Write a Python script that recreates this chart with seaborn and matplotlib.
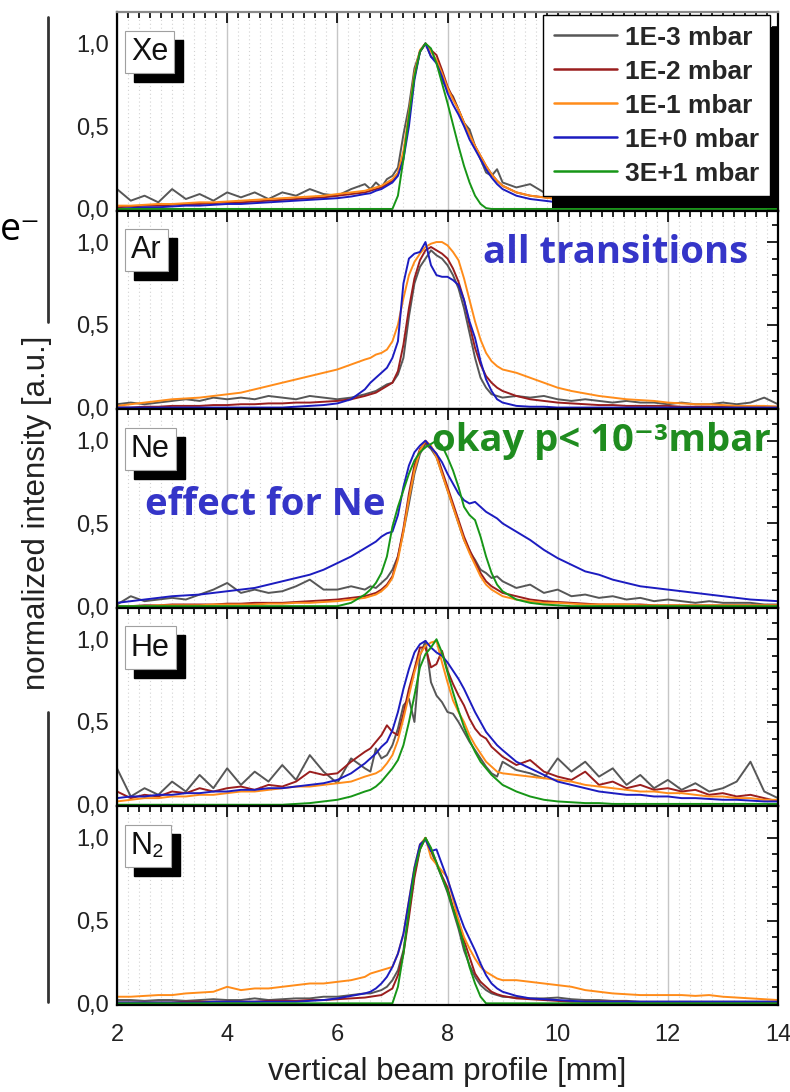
import matplotlib
matplotlib.use("Agg")
import numpy as np
import pandas as pd
import seaborn as sns
import matplotlib.pyplot as plt
from matplotlib.ticker import MultipleLocator, FuncFormatter, FixedLocator
from matplotlib.transforms import offset_copy
from matplotlib.lines import Line2D
from matplotlib.patches import Rectangle

# ---------------- data ----------------
X_MM = [2.0, 2.25, 2.5, 2.75, 3.0, 3.25, 3.5, 3.75, 4.0, 4.25, 4.5, 4.75, 5.0, 5.25, 5.5, 5.75, 6.0, 6.25, 6.5,
        6.6, 6.7, 6.8, 6.9, 7.0, 7.1, 7.2, 7.3, 7.4, 7.5, 7.6, 7.7, 7.8, 7.9, 8.0, 8.1, 8.2, 8.3, 8.4, 8.5, 8.6, 8.7, 8.8, 8.9, 9.0,
        9.25, 9.5, 9.75, 10.0, 10.25, 10.5, 10.75, 11.0, 11.25, 11.5, 11.75, 12.0, 12.25, 12.5, 12.75, 13.0, 13.25, 13.5, 13.75, 14.0]

PRESSURES = ["1E-3 mbar", "1E-2 mbar", "1E-1 mbar", "1E+0 mbar", "3E+1 mbar"]
COLORS = ["#575757", "#9a1e1e", "#ff8c1a", "#1c1cc0", "#179617"]
GASES = ["Xe", "Ar", "Ne", "He", "N₂"]

# Xe
XE_1E3 = [0.12, 0.05, 0.08, 0.04, 0.12, 0.06, 0.09, 0.05, 0.10, 0.07, 0.10, 0.06, 0.10, 0.08, 0.12, 0.09, 0.08, 0.12, 0.15,
          0.12, 0.16, 0.13, 0.18, 0.20, 0.25, 0.45, 0.62, 0.85, 0.95, 1.00, 0.92, 0.90, 0.78, 0.72, 0.68, 0.60, 0.52, 0.48, 0.38, 0.30, 0.22, 0.20, 0.24, 0.16,
          0.13, 0.15, 0.10, 0.07, 0.06, 0.07, 0.04, 0.05, 0.04, 0.03, 0.04, 0.03, 0.03, 0.02, 0.03, 0.02, 0.02, 0.02, 0.01, 0.01]
XE_1E2 = [0.01, 0.015, 0.02, 0.02, 0.025, 0.03, 0.03, 0.035, 0.04, 0.04, 0.045, 0.05, 0.055, 0.06, 0.065, 0.07, 0.08, 0.09, 0.10,
          0.11, 0.12, 0.13, 0.15, 0.17, 0.21, 0.33, 0.55, 0.80, 0.95, 1.00, 0.96, 0.93, 0.84, 0.74, 0.67, 0.60, 0.52, 0.45, 0.38, 0.32, 0.26, 0.21, 0.17, 0.14,
          0.10, 0.08, 0.07, 0.06, 0.05, 0.045, 0.04, 0.04, 0.035, 0.03, 0.03, 0.025, 0.025, 0.02, 0.02, 0.02, 0.015, 0.015, 0.01, 0.01]
XE_1E1 = [0.02, 0.02, 0.025, 0.03, 0.03, 0.035, 0.04, 0.04, 0.045, 0.05, 0.055, 0.06, 0.065, 0.07, 0.075, 0.08, 0.09, 0.10, 0.11,
          0.12, 0.13, 0.14, 0.16, 0.18, 0.22, 0.35, 0.58, 0.82, 0.96, 1.00, 0.95, 0.90, 0.82, 0.73, 0.66, 0.60, 0.52, 0.45, 0.38, 0.32, 0.26, 0.21, 0.17, 0.14,
          0.10, 0.08, 0.07, 0.06, 0.055, 0.05, 0.045, 0.04, 0.04, 0.035, 0.03, 0.03, 0.03, 0.025, 0.025, 0.02, 0.02, 0.02, 0.02, 0.015]
XE_1E0 = [0.0, 0.005, 0.01, 0.01, 0.015, 0.02, 0.02, 0.025, 0.03, 0.03, 0.035, 0.04, 0.045, 0.05, 0.055, 0.06, 0.065, 0.075, 0.09,
          0.095, 0.11, 0.12, 0.14, 0.16, 0.20, 0.30, 0.50, 0.78, 0.95, 1.00, 0.92, 0.88, 0.80, 0.70, 0.63, 0.57, 0.50, 0.42, 0.36, 0.30, 0.24, 0.19, 0.15, 0.12,
          0.08, 0.06, 0.05, 0.04, 0.035, 0.03, 0.03, 0.025, 0.02, 0.02, 0.02, 0.015, 0.015, 0.01, 0.01, 0.01, 0.01, 0.01, 0.005, 0.005]
XE_3E1 = [0, 0, 0, 0, 0, 0, 0, 0, 0, 0, 0, 0, 0, 0, 0, 0, 0, 0, 0,
          0, 0, 0, 0, 0, 0.08, 0.30, 0.56, 0.80, 0.95, 1.00, 0.97, 0.88, 0.76, 0.64, 0.51, 0.38, 0.26, 0.16, 0.08, 0.03, 0.005, 0, 0, 0,
          0, 0, 0, 0, 0, 0, 0, 0, 0, 0, 0, 0, 0, 0, 0, 0, 0, 0, 0, 0]

# Ar
AR_1E3 = [0.02, 0.03, 0.02, 0.03, 0.04, 0.05, 0.04, 0.06, 0.05, 0.06, 0.05, 0.07, 0.06, 0.05, 0.07, 0.06, 0.05, 0.06, 0.08,
          0.09, 0.10, 0.12, 0.14, 0.15, 0.20, 0.30, 0.55, 0.75, 0.85, 0.90, 0.95, 0.92, 0.90, 0.86, 0.80, 0.72, 0.60, 0.45, 0.30, 0.18, 0.12, 0.08, 0.07, 0.06,
          0.07, 0.06, 0.07, 0.05, 0.04, 0.05, 0.04, 0.03, 0.04, 0.03, 0.03, 0.02, 0.03, 0.02, 0.02, 0.03, 0.02, 0.03, 0.06, 0.02]
AR_1E2 = [0.0, 0.0, 0.005, 0.005, 0.01, 0.01, 0.01, 0.015, 0.015, 0.02, 0.02, 0.025, 0.025, 0.03, 0.03, 0.035, 0.04, 0.05, 0.07,
          0.08, 0.09, 0.11, 0.13, 0.15, 0.22, 0.38, 0.60, 0.78, 0.89, 0.95, 0.97, 0.95, 0.93, 0.90, 0.84, 0.76, 0.65, 0.50, 0.36, 0.26, 0.19, 0.15, 0.12, 0.10,
          0.07, 0.05, 0.04, 0.03, 0.025, 0.02, 0.015, 0.015, 0.01, 0.01, 0.01, 0.01, 0.005, 0.005, 0.005, 0.005, 0.005, 0.005, 0.005, 0.005]
AR_1E1 = [0.01, 0.02, 0.03, 0.04, 0.05, 0.055, 0.06, 0.07, 0.08, 0.09, 0.11, 0.13, 0.15, 0.17, 0.19, 0.21, 0.23, 0.26, 0.29,
          0.30, 0.32, 0.33, 0.35, 0.40, 0.50, 0.66, 0.80, 0.88, 0.93, 0.97, 0.99, 1.00, 1.00, 0.98, 0.94, 0.89, 0.78, 0.65, 0.52, 0.41, 0.33, 0.28, 0.25, 0.23,
          0.21, 0.18, 0.15, 0.12, 0.10, 0.085, 0.07, 0.06, 0.05, 0.045, 0.04, 0.03, 0.025, 0.02, 0.02, 0.015, 0.01, 0.01, 0.01, 0.005]
AR_1E0 = [0, 0, 0, 0, 0, 0, 0, 0, 0, 0, 0, 0, 0, 0.005, 0.01, 0.015, 0.025, 0.05, 0.11,
          0.15, 0.18, 0.21, 0.24, 0.30, 0.40, 0.75, 0.90, 0.93, 0.94, 1.00, 0.86, 0.80, 0.79, 0.79, 0.77, 0.74, 0.65, 0.52, 0.42, 0.28, 0.17, 0.10, 0.05, 0.03,
          0.01, 0.005, 0.005, 0, 0, 0, 0, 0, 0, 0, 0, 0, 0, 0, 0, 0, 0, 0, 0, 0]

# Ne
NE_1E3 = [0.01, 0.06, 0.03, 0.04, 0.05, 0.04, 0.07, 0.10, 0.14, 0.08, 0.10, 0.08, 0.09, 0.12, 0.16, 0.10, 0.10, 0.12, 0.10,
          0.12, 0.11, 0.14, 0.17, 0.22, 0.30, 0.45, 0.62, 0.80, 0.92, 0.98, 0.95, 0.90, 0.80, 0.70, 0.60, 0.50, 0.40, 0.33, 0.28, 0.22, 0.20, 0.17, 0.18, 0.15,
          0.11, 0.13, 0.08, 0.10, 0.06, 0.07, 0.05, 0.06, 0.04, 0.05, 0.03, 0.04, 0.03, 0.02, 0.03, 0.02, 0.02, 0.02, 0.01, 0.01]
NE_1E2 = [0.0, 0.0, 0.005, 0.005, 0.01, 0.01, 0.01, 0.01, 0.015, 0.015, 0.02, 0.02, 0.02, 0.025, 0.03, 0.035, 0.04, 0.05, 0.06,
          0.07, 0.08, 0.10, 0.13, 0.18, 0.30, 0.47, 0.68, 0.85, 0.95, 0.99, 0.96, 0.92, 0.82, 0.72, 0.62, 0.52, 0.42, 0.34, 0.27, 0.20, 0.15, 0.12, 0.10, 0.08,
          0.06, 0.04, 0.03, 0.025, 0.02, 0.015, 0.01, 0.01, 0.01, 0.01, 0.005, 0.005, 0.005, 0.005, 0.005, 0.005, 0.005, 0.005, 0.005, 0.005]
NE_1E1 = [0.0, 0.0, 0.0, 0.005, 0.005, 0.005, 0.005, 0.01, 0.01, 0.01, 0.01, 0.015, 0.015, 0.02, 0.02, 0.025, 0.03, 0.04, 0.05,
          0.06, 0.07, 0.09, 0.12, 0.17, 0.28, 0.45, 0.65, 0.82, 0.94, 1.00, 0.97, 0.90, 0.80, 0.70, 0.60, 0.50, 0.40, 0.32, 0.25, 0.18, 0.13, 0.10, 0.08, 0.06,
          0.04, 0.03, 0.02, 0.02, 0.015, 0.01, 0.01, 0.01, 0.01, 0.005, 0.005, 0.005, 0.005, 0.005, 0.005, 0.005, 0.005, 0.005, 0.005, 0.005]
NE_1E0 = [0.02, 0.03, 0.04, 0.05, 0.06, 0.065, 0.07, 0.08, 0.09, 0.10, 0.11, 0.13, 0.15, 0.17, 0.19, 0.22, 0.26, 0.30, 0.35,
          0.37, 0.39, 0.42, 0.44, 0.45, 0.55, 0.72, 0.85, 0.93, 0.97, 1.00, 0.96, 0.92, 0.87, 0.80, 0.74, 0.68, 0.64, 0.62, 0.63, 0.60, 0.57, 0.55, 0.53, 0.50,
          0.45, 0.40, 0.34, 0.29, 0.25, 0.21, 0.19, 0.16, 0.14, 0.12, 0.11, 0.10, 0.09, 0.08, 0.07, 0.06, 0.05, 0.04, 0.035, 0.03]
NE_3E1 = [0, 0, 0, 0, 0, 0, 0, 0, 0, 0, 0, 0, 0, 0, 0, 0, 0, 0.02, 0.07,
          0.10, 0.14, 0.20, 0.30, 0.48, 0.60, 0.70, 0.80, 0.88, 0.93, 0.96, 0.98, 1.00, 0.97, 0.90, 0.82, 0.72, 0.60, 0.55, 0.52, 0.42, 0.30, 0.20, 0.13, 0.09,
          0.04, 0.02, 0.01, 0.005, 0, 0, 0, 0, 0, 0, 0, 0, 0, 0, 0, 0, 0, 0, 0, 0]

# He
HE_1E3 = [0.22, 0.05, 0.10, 0.06, 0.14, 0.08, 0.18, 0.10, 0.22, 0.12, 0.20, 0.14, 0.24, 0.15, 0.30, 0.20, 0.13, 0.28, 0.22,
          0.20, 0.34, 0.28, 0.30, 0.36, 0.46, 0.60, 0.64, 0.50, 0.90, 0.99, 0.74, 0.66, 0.62, 0.56, 0.55, 0.50, 0.44, 0.38, 0.33, 0.28, 0.23, 0.19, 0.17, 0.26,
          0.21, 0.19, 0.16, 0.28, 0.20, 0.26, 0.17, 0.22, 0.12, 0.18, 0.10, 0.15, 0.09, 0.13, 0.08, 0.10, 0.14, 0.26, 0.08, 0.04]
HE_1E2 = [0.08, 0.04, 0.06, 0.05, 0.08, 0.07, 0.10, 0.08, 0.10, 0.11, 0.09, 0.12, 0.11, 0.14, 0.20, 0.18, 0.19, 0.26, 0.32,
          0.34, 0.38, 0.42, 0.48, 0.44, 0.42, 0.55, 0.70, 0.82, 0.95, 0.95, 0.83, 0.85, 0.93, 0.81, 0.73, 0.66, 0.60, 0.52, 0.46, 0.42, 0.40, 0.35, 0.32, 0.29,
          0.24, 0.27, 0.20, 0.17, 0.15, 0.20, 0.12, 0.14, 0.10, 0.12, 0.09, 0.10, 0.08, 0.09, 0.06, 0.07, 0.05, 0.06, 0.04, 0.02]
HE_1E1 = [0.02, 0.03, 0.04, 0.04, 0.05, 0.05, 0.06, 0.06, 0.07, 0.08, 0.08, 0.09, 0.10, 0.11, 0.11, 0.12, 0.13, 0.14, 0.17,
          0.18, 0.19, 0.21, 0.25, 0.30, 0.39, 0.52, 0.66, 0.80, 0.91, 0.96, 0.98, 0.99, 0.86, 0.74, 0.63, 0.56, 0.50, 0.42, 0.36, 0.31, 0.26, 0.23, 0.20, 0.19,
          0.18, 0.17, 0.16, 0.15, 0.14, 0.12, 0.11, 0.10, 0.09, 0.08, 0.08, 0.07, 0.07, 0.06, 0.05, 0.05, 0.04, 0.04, 0.03, 0.03]
HE_1E0 = [0.04, 0.05, 0.05, 0.06, 0.06, 0.07, 0.07, 0.08, 0.08, 0.09, 0.09, 0.10, 0.10, 0.11, 0.12, 0.13, 0.15, 0.19, 0.25,
          0.28, 0.31, 0.35, 0.38, 0.45, 0.56, 0.70, 0.82, 0.92, 0.97, 0.99, 0.95, 0.92, 0.90, 0.86, 0.81, 0.76, 0.70, 0.63, 0.56, 0.50, 0.44, 0.40, 0.36, 0.33,
          0.26, 0.22, 0.18, 0.14, 0.12, 0.10, 0.08, 0.07, 0.06, 0.06, 0.05, 0.05, 0.04, 0.04, 0.035, 0.03, 0.03, 0.025, 0.02, 0.02]
HE_3E1 = [0, 0, 0, 0, 0, 0, 0, 0, 0, 0, 0, 0, 0, 0.005, 0.01, 0.02, 0.03, 0.05, 0.08,
          0.09, 0.11, 0.14, 0.18, 0.22, 0.27, 0.36, 0.50, 0.66, 0.83, 0.91, 0.95, 1.00, 0.92, 0.80, 0.68, 0.57, 0.47, 0.39, 0.32, 0.26, 0.22, 0.18, 0.15, 0.12,
          0.08, 0.05, 0.03, 0.02, 0.015, 0.01, 0.01, 0.005, 0.005, 0.005, 0.005, 0.005, 0.005, 0.005, 0.005, 0.005, 0.005, 0.005, 0.005, 0.005]

# N2
N2_1E3 = [0.02, 0.02, 0.015, 0.02, 0.02, 0.015, 0.02, 0.025, 0.02, 0.02, 0.03, 0.02, 0.025, 0.03, 0.03, 0.04, 0.04, 0.05, 0.06,
          0.06, 0.07, 0.08, 0.10, 0.14, 0.20, 0.32, 0.55, 0.78, 0.94, 1.00, 0.92, 0.84, 0.76, 0.67, 0.56, 0.45, 0.32, 0.23, 0.16, 0.11, 0.08, 0.06, 0.05, 0.04,
          0.035, 0.03, 0.03, 0.035, 0.025, 0.02, 0.02, 0.015, 0.015, 0.01, 0.01, 0.01, 0.01, 0.01, 0.01, 0.01, 0.01, 0.01, 0.01, 0.01]
N2_1E2 = [0.005, 0.005, 0.005, 0.005, 0.005, 0.01, 0.01, 0.01, 0.01, 0.01, 0.01, 0.015, 0.015, 0.015, 0.02, 0.02, 0.025, 0.03, 0.035,
          0.04, 0.045, 0.05, 0.07, 0.09, 0.17, 0.30, 0.52, 0.76, 0.93, 1.00, 0.93, 0.85, 0.77, 0.70, 0.58, 0.50, 0.38, 0.28, 0.18, 0.13, 0.10, 0.07, 0.055, 0.045,
          0.03, 0.025, 0.02, 0.015, 0.01, 0.01, 0.01, 0.01, 0.01, 0.005, 0.005, 0.005, 0.005, 0.005, 0.005, 0.005, 0.005, 0.005, 0.005, 0.005]
N2_1E1 = [0.04, 0.04, 0.045, 0.05, 0.05, 0.06, 0.065, 0.07, 0.10, 0.08, 0.09, 0.09, 0.10, 0.11, 0.12, 0.12, 0.13, 0.14, 0.16,
          0.18, 0.19, 0.20, 0.21, 0.22, 0.30, 0.42, 0.62, 0.82, 0.96, 1.00, 0.88, 0.84, 0.80, 0.76, 0.63, 0.50, 0.40, 0.33, 0.27, 0.22, 0.19, 0.17, 0.15, 0.14,
          0.14, 0.13, 0.12, 0.11, 0.10, 0.08, 0.07, 0.06, 0.055, 0.05, 0.05, 0.05, 0.05, 0.045, 0.05, 0.04, 0.035, 0.03, 0.025, 0.02]
N2_1E0 = [0.005, 0.005, 0.005, 0.005, 0.005, 0.005, 0.005, 0.01, 0.01, 0.01, 0.01, 0.01, 0.01, 0.01, 0.015, 0.02, 0.03, 0.045, 0.06,
          0.07, 0.09, 0.12, 0.16, 0.22, 0.30, 0.42, 0.62, 0.82, 0.96, 0.99, 0.92, 0.93, 0.84, 0.75, 0.65, 0.55, 0.46, 0.39, 0.32, 0.24, 0.17, 0.12, 0.09, 0.07,
          0.045, 0.03, 0.025, 0.02, 0.015, 0.01, 0.01, 0.01, 0.01, 0.01, 0.01, 0.01, 0.01, 0.01, 0.01, 0.01, 0.01, 0.01, 0.01, 0.01]
N2_3E1 = [0, 0, 0, 0, 0, 0, 0, 0, 0, 0, 0, 0, 0, 0, 0, 0, 0, 0, 0,
          0, 0, 0, 0, 0, 0.10, 0.30, 0.56, 0.80, 0.93, 1.00, 0.94, 0.85, 0.76, 0.68, 0.57, 0.47, 0.35, 0.22, 0.12, 0.04, 0, 0, 0, 0,
          0, 0, 0, 0, 0, 0, 0, 0, 0, 0, 0, 0, 0, 0, 0, 0, 0, 0, 0, 0]

PANELS = [
    [XE_1E3, XE_1E2, XE_1E1, XE_1E0, XE_3E1],
    [AR_1E3, AR_1E2, AR_1E1, AR_1E0, None],
    [NE_1E3, NE_1E2, NE_1E1, NE_1E0, NE_3E1],
    [HE_1E3, HE_1E2, HE_1E1, HE_1E0, HE_3E1],
    [N2_1E3, N2_1E2, N2_1E1, N2_1E0, N2_3E1],
]

for panel in PANELS:
    for s in panel:
        if s is not None:
            assert len(s) == len(X_MM), len(s)

# ---------------- style ----------------
sns.set_theme(style="white")
plt.rcParams['font.family'] = ['Liberation Sans', 'DejaVu Sans']

W, H = 790, 1092
fig, axes = plt.subplots(5, 1, figsize=(W / 100, H / 100), dpi=100, sharex=True)
fig.subplots_adjust(left=117 / W, right=778 / W, top=1 - 12 / H, bottom=1 - 1005 / H, hspace=0)

palette = dict(zip(PRESSURES, COLORS))
comma = FuncFormatter(lambda v, p: f"{v:.1f}".replace('.', ','))

for i, (ax, gas, series) in enumerate(zip(axes, GASES, PANELS)):
    rows = []
    for p, vals in zip(PRESSURES, series):
        if vals is None:
            continue
        for x, y in zip(X_MM, vals):
            rows.append((p, x, y))
    df = pd.DataFrame(rows, columns=['pressure', 'x', 'y'])
    present = [p for p in PRESSURES if p in set(df['pressure'])]
    sns.lineplot(data=df, x='x', y='y', hue='pressure', hue_order=present, palette=palette,
                 estimator=None, lw=1.4, ax=ax, legend=(i == 0))
    ax.set_xlim(2, 14)
    ax.set_ylim(-0.01, 1.19)
    ax.set_xlabel('')
    ax.set_ylabel('')
    ax.xaxis.set_major_locator(MultipleLocator(2))
    ax.xaxis.set_minor_locator(MultipleLocator(0.2))
    ax.yaxis.set_major_locator(FixedLocator([0.0, 0.5, 1.0]))
    ax.yaxis.set_minor_locator(MultipleLocator(0.1))
    ax.yaxis.set_major_formatter(comma)
    ax.tick_params(which='both', direction='in', top=True, right=True, color='black', width=1.2)
    ax.tick_params(which='major', length=8, labelsize=17, colors='black')
    ax.tick_params(axis='y', which='major', pad=6, labelcolor='#222222')
    ax.tick_params(axis='x', which='major', pad=14, labelcolor='#222222')
    ax.tick_params(which='minor', length=4.5)
    ax.grid(which='major', axis='x', color='#c6c6c6', lw=1.0, ls='-')
    ax.grid(which='minor', axis='x', color='#d2d2d2', lw=0.8, ls=(0, (1, 2.5)))
    ax.grid(axis='y', visible=False)
    ax.set_axisbelow(True)
    for s in ax.spines.values():
        s.set_color('black')
        s.set_linewidth(1.6)

    # gas label with black drop shadow
    sh = offset_copy(ax.transAxes, fig=fig, x=9, y=-9, units='dots')
    ax.text(0.021, 0.80, gas, transform=sh, fontsize=22, color='black', ha='left', va='center',
            bbox=dict(boxstyle='square,pad=0.2', fc='black', ec='black'), zorder=6)
    ax.text(0.021, 0.80, gas, transform=ax.transAxes, fontsize=22, color='#111111', ha='left', va='center',
            bbox=dict(boxstyle='square,pad=0.2', fc='white', ec='#a0a0a0', lw=0.8), zorder=7)

axes[0].spines['top'].set_color('#8a8a8a')

# legend in top panel
ax0 = axes[0]
leg0 = ax0.get_legend()
handles = leg0.legend_handles
labels = [t.get_text() for t in leg0.get_texts()]
leg0.remove()
for h in handles:
    h.set_linewidth(1.8)
leg = ax0.legend(handles, labels, loc='upper right', bbox_to_anchor=(0.988, 0.985), borderaxespad=0,
                 frameon=True, fancybox=False, edgecolor='black', facecolor='white', framealpha=1,
                 prop={'weight': 'bold', 'size': 19}, handlelength=2.4, handletextpad=0.3,
                 labelspacing=0.38, borderpad=0.4)
leg.get_frame().set_linewidth(1.0)
leg.set_zorder(8)

# x label and y label
fig.text(447 / W, 1 - 1072 / H, 'vertical beam profile [mm]', fontsize=22.5, ha='center', va='center', color='#222222')
fig.text(37 / W, 1 - 513 / H, 'normalized intensity [a.u.]', fontsize=22.5, rotation=90,
         ha='center', va='center', color='#222222')

# bracket lines beside the y label
fig.add_artist(Line2D([48 / W, 48 / W], [1 - 17 / H, 1 - 322 / H], transform=fig.transFigure, color='#333333', lw=2))
fig.add_artist(Line2D([48 / W, 48 / W], [1 - 712 / H, 1 - 1002 / H], transform=fig.transFigure, color='#333333', lw=2))

# e- label
fig.text(0 / W, 1 - 240 / H, 'e⁻', fontsize=27, ha='left', va='baseline',
         family=['Open Sans', 'DejaVu Sans'], color='black')

# annotations
ann_font = ['Open Sans', 'DejaVu Sans']
fig.text(483 / W, 1 - 253 / H, 'all transitions', fontsize=27.5, fontweight='bold', color='#3535c8',
         ha='left', va='center', family=ann_font)
fig.text(432 / W, 1 - 441 / H, 'okay p< 10⁻³mbar', fontsize=27.5, fontweight='bold', color='#1f8c1f',
         ha='left', va='center', family=ann_font)
fig.text(145 / W, 1 - 505 / H, 'effect for Ne', fontsize=27.5, fontweight='bold', color='#3535c8',
         ha='left', va='center', family=ann_font)

# legend drop shadow
fig.canvas.draw()
bb = leg.get_window_extent()
inv = ax0.transAxes.inverted()
(x0, y0), (x1, y1) = inv.transform([[bb.x0 + 9, bb.y0 - 12], [bb.x1 + 9, bb.y1 - 12]])
ax0.add_patch(Rectangle((x0, y0), x1 - x0, y1 - y0, transform=ax0.transAxes, fc='black', ec='none',
                        zorder=7.5, clip_on=False))

fig.savefig('out.png', dpi=100)
